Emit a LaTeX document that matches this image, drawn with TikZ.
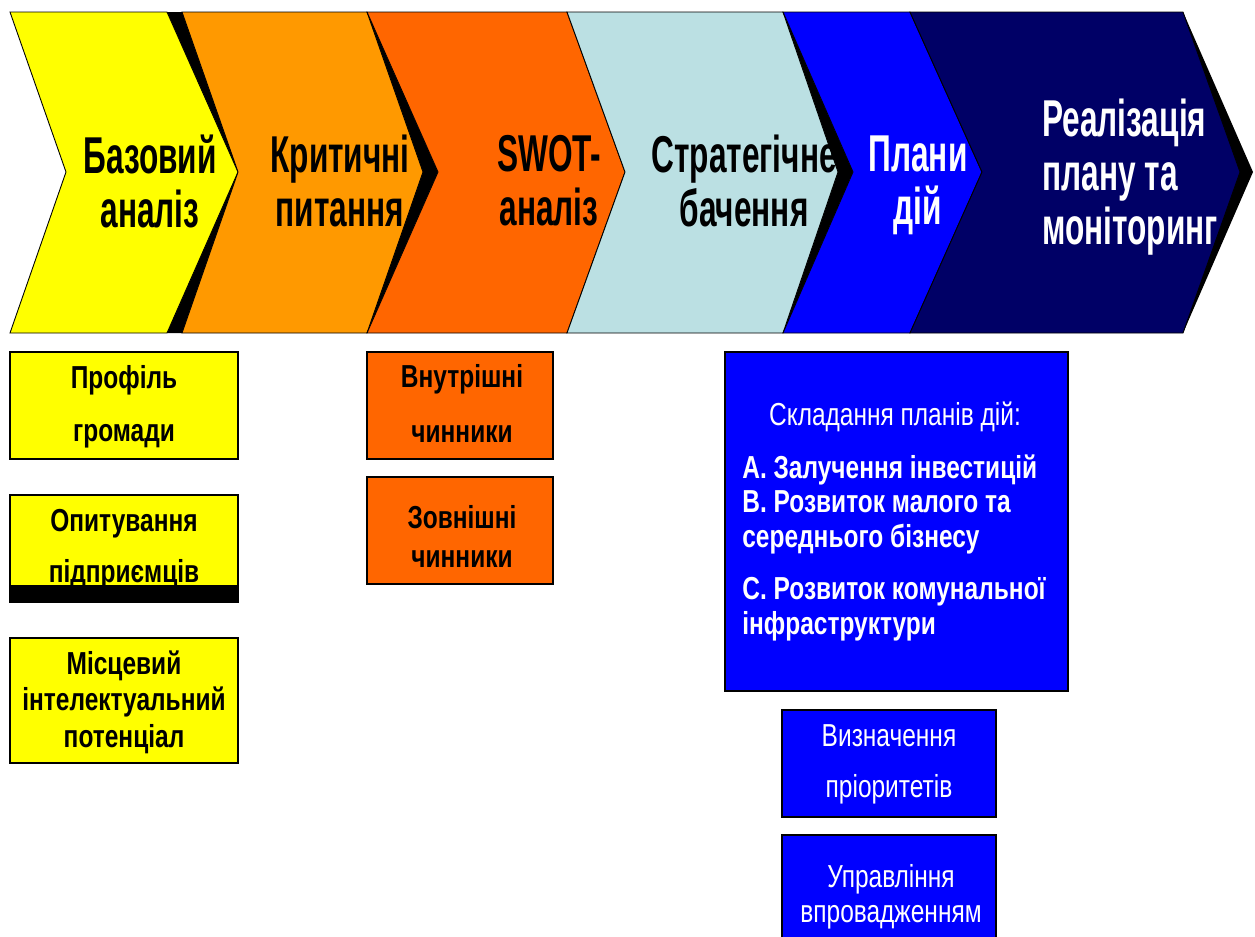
\documentclass[tikz,border=0pt]{standalone}
\usepackage{fontspec}
\setmainfont{Liberation Sans}
\newfontfamily\chevfont{Liberation Sans}[FakeStretch=0.61]
\newfontfamily\boxfont{Liberation Sans}[FakeStretch=0.77]
\usepackage{tikz}
\usetikzlibrary{positioning}
\definecolor{stageyellow}{HTML}{FFFF00}
\definecolor{stageorange}{HTML}{FF9900}
\definecolor{stagered}{HTML}{FF6600}
\definecolor{stagecyan}{HTML}{BBE0E3}
\definecolor{stageblue}{HTML}{0000FF}
\definecolor{stagenavy}{HTML}{000066}
\tikzset{chev/.style={draw=black, line width=0.5pt, line join=miter}}
\tikzset{stepbox/.style={draw=black, line width=0.6pt}}
\tikzset{chevtext/.style={font={\chevfont\bfseries\fontsize{29.5pt}{30.6pt}\selectfont}, align=center, inner sep=0pt, anchor=north}}
\tikzset{boxtext/.style={font={\boxfont\fontsize{18.1pt}{#1}\selectfont}, align=center, inner sep=0pt, anchor=north}}
\tikzset{boxbold/.style={boxtext=#1, font={\boxfont\bfseries\fontsize{18.1pt}{#1}\selectfont}}}
% left, right, tip, notch, colour
\newcommand\chevron[5]{
				\draw[chev, fill=#5] (#1,12) -- (#2,12) -- (#3,172) -- (#2,333) -- (#1,333) -- (#4,172) -- cycle;
				}
% [gap], right, shadow tip
\newcommand\chevshadow[3][0]{
				\fill[black] (#2,12) -- ({#2+#1},12) -- (#3,172) -- ({#2+#1},333) -- (#2,333) -- cycle;
				}

\begin{document}
\begin{tikzpicture}[x=0.02cm, y=-0.02cm]
	\useasboundingbox (0,0) rectangle (1255,937);

	\chevshadow[15]{167}{253}
	\chevron{10}{167}{238}{66}{stageyellow}
	\chevshadow{367}{438}
	\chevron{182}{367}{423}{238}{stageorange}
	\chevron{367}{567}{625}{438}{stagered}
	\chevshadow{783}{853}
	\chevron{567}{783}{838}{625}{stagecyan}
	\chevron{783}{910}{982}{853}{stageblue}
	\chevshadow{1183}{1253}
	\chevron{910}{1183}{1240}{982}{stagenavy}

	\node[chevtext] (base) at (150,135) {Базовий\\аналіз};
	\node[chevtext] (issues) at (340,135) {Критичні\\питання};
	\node[chevtext] (swot) at (549,135) {SWOT-\\аналіз};
	\node[chevtext] (vision) at (744,135) {Стратегічне\\бачення};
	\node[chevtext, text=white] (plans) at (918,135) {Плани\\дій};
	\node[chevtext, text=white, anchor=north west, align=left] (monitor) at (1042,99) {Реалізація\\плану та\\моніторинг};

	% yellow column
	\draw[stepbox, fill=stageyellow] (10,352) rectangle (238,459);
	\node[boxbold=30.3pt] (profile) at (124,365) {Профіль\\громади};
	\draw[stepbox, fill=stageyellow] (10,495) rectangle (238,602);
	\node[boxbold=28.9pt] (survey) at (124,509) {Опитування\\підприємців};
	\fill[black] (10,585) rectangle (238,603);
	\draw[stepbox, fill=stageyellow] (10,638) rectangle (238,763);
	\node[boxbold=21pt] (talent) at (124,650) {Місцевий\\інтелектуальний\\потенціал};

	% orange column
	\draw[stepbox, fill=stagered] (367,352) rectangle (553,459);
	\node[boxbold=31.2pt] (inner) at (462,364) {Внутрішні\\чинники};
	\draw[stepbox, fill=stagered] (367,477) rectangle (553,584);
	\node[boxbold=22.1pt] (outer) at (462,505) {Зовнішні\\чинники};

	% blue column
	\draw[stepbox, fill=stageblue] (725,352) rectangle (1068,691);
	\node[boxtext=21pt, text=white, anchor=base] (planhead) at (895,425) {Складання планів дій:};
	\node[boxbold=19.8pt, text=white, anchor=north west, align=left] (planlist) at (742,454)
		{A. Залучення інвестицій\\B. Розвиток малого та\\середнього бізнесу\\[10pt]C. Розвиток комунальної\\інфраструктури};
	\draw[stepbox, fill=stageblue] (782,710) rectangle (996,817);
	\node[boxtext=28.9pt, text=white] (priority) at (889,724) {Визначення\\пріоритетів};
	\draw[stepbox, fill=stageblue] (782,835) rectangle (996,950);
	\node[boxtext=19.8pt, text=white] (manage) at (891,864) {Управління\\впровадженням};
\end{tikzpicture}
\end{document}
